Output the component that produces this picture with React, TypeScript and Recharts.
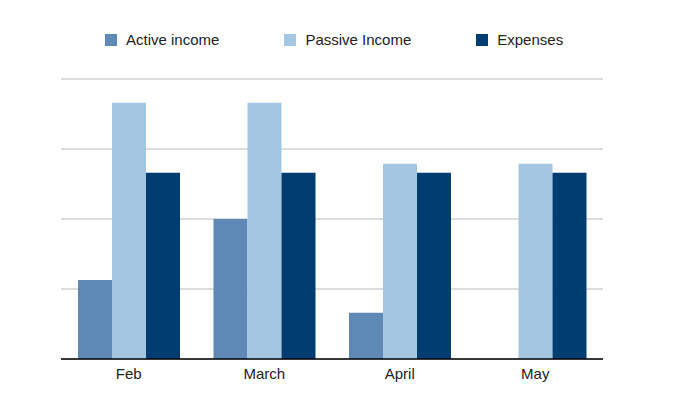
import React from "react";
import { BarChart, Bar, XAxis, YAxis, CartesianGrid } from "recharts";

const months = ["Feb", "March", "April", "May"];
const activeIncome = [1.13, 2.0, 0.66, 0];
const passiveIncome = [3.66, 3.66, 2.79, 2.79];
const expenses = [2.66, 2.66, 2.66, 2.66];
const yTicks = [0, 1, 2, 3, 4];

const seriesNames = ["Active income", "Passive Income", "Expenses"];
const colors = ["#5e88b5", "#a3c6e1", "#023d72"];

const data = months.map((m, i) => ({
  month: m,
  active: activeIncome[i],
  passive: passiveIncome[i],
  expenses: expenses[i],
}));

const font = "'Liberation Sans', Arial, sans-serif";

export default function App() {
  return (
    <div style={{ position: "absolute", left: 0, top: 0, width: 682, height: 399, background: "#fff" }}>
      <div
        style={{
          position: "absolute",
          top: 31,
          left: 105,
          display: "flex",
          alignItems: "center",
          height: 18,
        }}
      >
        {seriesNames.map((name, i) => (
          <div key={name} style={{ display: "flex", alignItems: "center", marginRight: 65 }}>
            <span style={{ width: 12, height: 12, background: colors[i], display: "inline-block", marginRight: 9 }} />
            <span style={{ fontSize: 15, color: "#222", fontFamily: font, lineHeight: "18px" }}>{name}</span>
          </div>
        ))}
      </div>
      <BarChart
        width={682}
        height={399}
        data={data}
        margin={{ top: 79, right: 79, bottom: 10, left: 61 }}
        barGap={0}
        barSize={34}
      >
        <CartesianGrid horizontal vertical={false} stroke="#bbbbbb" strokeWidth={1.2} />
        <XAxis
          dataKey="month"
          height={30}
          axisLine={{ stroke: "#000", strokeWidth: 1.5 }}
          tickLine={false}
          tickSize={7}
          tick={{ fill: "#222", fontSize: 15, fontFamily: font }}
        />
        <YAxis hide domain={[0, 4]} ticks={yTicks} />
        <Bar dataKey="active" name={seriesNames[0]} fill={colors[0]} isAnimationActive={false} />
        <Bar dataKey="passive" name={seriesNames[1]} fill={colors[1]} isAnimationActive={false} />
        <Bar dataKey="expenses" name={seriesNames[2]} fill={colors[2]} isAnimationActive={false} />
      </BarChart>
    </div>
  );
}
